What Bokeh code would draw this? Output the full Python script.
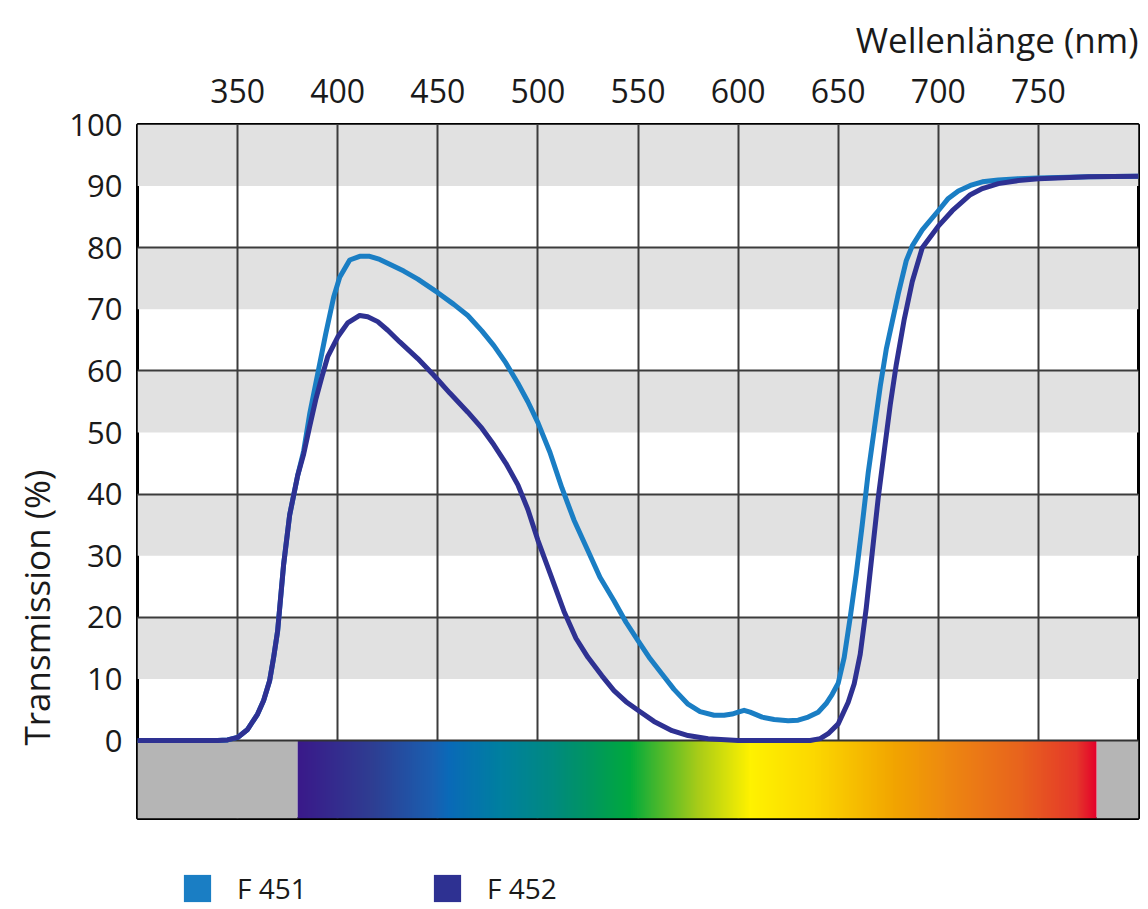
import numpy as np
from bokeh.plotting import figure
from bokeh.layouts import column
from bokeh.models import FixedTicker, Legend, LegendItem, Title
from bokeh.embed import file_html
from bokeh.resources import INLINE

# ---------------- data ----------------
wl_f451 = [300, 340, 345, 350, 355, 360, 363, 366, 368, 370, 373, 376, 380, 383, 386, 390, 394, 398,
           401, 406, 411, 416, 421, 426, 433, 440, 450, 458, 465, 472, 478, 484, 490, 495, 500, 506,
           512, 518, 525, 531, 538, 544, 550, 556, 562, 568, 575, 581, 588, 593, 597, 600, 603, 606,
           612, 618, 625, 630, 635, 640, 644, 647, 650, 653, 656, 659, 662, 665, 668, 671, 674, 677,
           680, 684, 687, 692, 700, 705, 710, 716, 722, 730, 740, 750, 775, 800]
t_f451 = [0, 0, 0.1, 0.5, 1.8, 4.3, 6.5, 9.7, 13.5, 17.8, 28.6, 36.6, 43, 47, 53, 59.5, 66, 72,
          75.2, 78, 78.6, 78.6, 78.1, 77.3, 76.2, 74.9, 72.7, 70.8, 69, 66.5, 64.1, 61.3, 58, 55, 51.6, 46.8,
          41, 35.8, 30.8, 26.5, 22.7, 19.2, 16.2, 13.3, 10.8, 8.3, 5.9, 4.7, 4.1, 4.1, 4.3, 4.6, 4.9, 4.6,
          3.8, 3.4, 3.2, 3.3, 3.8, 4.6, 6, 7.5, 9.3, 13.5, 20, 27, 35, 43.5, 50.5, 57.5, 63.5, 68,
          72.5, 77.9, 80.3, 82.9, 86, 88, 89.2, 90.1, 90.7, 91, 91.2, 91.3, 91.5, 91.6]

wl_f452 = [300, 340, 345, 350, 355, 360, 363, 366, 368, 370, 373, 376, 380, 383, 386, 389, 392, 395,
           400, 405, 411, 415, 420, 425, 431, 440, 448, 456, 465, 472, 478, 484, 490, 495, 500,
           506, 513, 519, 525, 532, 538, 544, 550, 558, 567, 575, 585, 600, 620, 636, 641, 645, 650,
           655, 658, 661, 664, 667, 670, 673, 676, 679, 683, 687, 692, 700, 707, 716,
           722, 730, 740, 750, 775, 800]
t_f452 = [0, 0, 0.1, 0.5, 1.8, 4.3, 6.5, 9.7, 13.5, 17.8, 28.6, 36.6, 43, 46.5, 51, 55.3, 58.9, 62.3,
          65.5, 67.8, 69, 68.8, 68, 66.6, 64.7, 62, 59.3, 56.4, 53.3, 50.7, 48, 45, 41.5, 37.5, 32.5,
          27.2, 21, 16.6, 13.5, 10.5, 8.1, 6.3, 4.9, 3.1, 1.6, 0.8, 0.3, 0, 0, 0, 0.3, 1.1, 2.7,
          6.2, 9.2, 14, 21.5, 30.5, 39.4, 47, 54.5, 61, 68.4, 74.5, 80, 83.5, 86, 88.6,
          89.6, 90.4, 90.9, 91.2, 91.5, 91.6]

series_names = ["F 451", "F 452"]
series_colors = ["#1a7ec4", "#2e3192"]

x_ticks = [350, 400, 450, 500, 550, 600, 650, 700, 750]
y_ticks = [0, 10, 20, 30, 40, 50, 60, 70, 80, 90, 100]
band_low = [10, 30, 50, 70, 90]          # grey background bands (10 % high)
band_high = [20, 40, 60, 80, 100]

# visible spectrum colour stops (nm, colour)
spec_nm = [380, 416, 447, 455, 481, 507, 523, 546, 557, 580, 606, 638, 677, 703, 742, 769, 779]
spec_col = ["#3a1a8a", "#2f3d92", "#1a5fb0", "#0a6ab8", "#0080a0", "#008a80", "#009464", "#00aa3c",
            "#3ab530", "#a8cc18", "#fff200", "#fcd800", "#f2a600", "#ee8a10", "#e8621e", "#e5382a", "#e4002b"]
uv_ir_left = [300, 779]
uv_ir_right = [380, 800]

X_MIN, X_MAX = 300, 800
Y_MIN, Y_MAX = -12.66, 100

FONT = "Open Sans"
TXT = "#1a1a1a"

# ---------------- main figure ----------------
p = figure(x_range=(X_MIN, X_MAX), y_range=(Y_MIN, Y_MAX),
           frame_width=1001, frame_height=694,
           min_border_left=137, min_border_top=124, min_border_right=10, min_border_bottom=2,
           x_axis_location="above", output_backend="svg", toolbar_location=None,
           background_fill_color="white", border_fill_color="white",
           title="Wellenlänge (nm)")

p.title.align = "right"
p.title.text_font = FONT
p.title.text_font_size = "35px"
p.title.text_font_style = "normal"
p.title.text_color = TXT
p.title.standoff = 26

p.outline_line_color = "black"
p.outline_line_width = 3

# background bands
p.quad(left=X_MIN, right=X_MAX, bottom=band_low, top=band_high,
       fill_color="#e1e1e1", line_color=None, level="image")

# grids
p.xgrid.ticker = FixedTicker(ticks=x_ticks)
p.ygrid.ticker = FixedTicker(ticks=[20, 40, 60, 80])
for g in (p.xgrid, p.ygrid):
    g.grid_line_color = "#3c3c3c"
    g.grid_line_width = 2

# spectrum bar
p.quad(left=uv_ir_left, right=uv_ir_right, bottom=Y_MIN, top=0,
       fill_color="#b5b5b5", line_color=None)

def hex2rgb(h):
    h = h.lstrip("#")
    return [int(h[i:i + 2], 16) for i in (0, 2, 4)]

rgb = np.array([hex2rgb(c) for c in spec_col], dtype=float)
nm = np.arange(spec_nm[0], spec_nm[-1] + 1)
img = np.zeros((1, len(nm)), dtype=np.uint32)
view = img.view(dtype=np.uint8).reshape((1, len(nm), 4))
for ch in range(3):
    view[0, :, ch] = np.interp(nm, spec_nm, rgb[:, ch]).astype(np.uint8)
view[0, :, 3] = 255
p.image_rgba(image=[img], x=spec_nm[0], y=Y_MIN, dw=spec_nm[-1] - spec_nm[0], dh=-Y_MIN)

# baseline
p.hspan(y=[0], line_color="#333333", line_width=2)

# curves
p.line(wl_f451, t_f451, line_color=series_colors[0], line_width=5, line_join="round")
p.line(wl_f452, t_f452, line_color=series_colors[1], line_width=5, line_join="round")

# axes
p.xaxis.ticker = FixedTicker(ticks=x_ticks)
p.yaxis.ticker = FixedTicker(ticks=y_ticks)
for ax in (p.xaxis, p.yaxis):
    ax.axis_line_color = None
    ax.major_tick_line_color = None
    ax.minor_tick_line_color = None
    ax.major_label_text_font = FONT
    ax.major_label_text_color = TXT
p.xaxis.major_label_text_font_size = "32px"
p.xaxis.major_label_standoff = 16
p.yaxis.major_label_text_font_size = "31px"
p.yaxis.major_label_standoff = 9

# y axis title (vertical, placed toward the lower part as in the original)
ytitle = Title(text="Transmission (%)", align="left", offset=73, text_font=FONT,
               text_font_size="35px", text_font_style="normal", text_color=TXT, standoff=14)
p.add_layout(ytitle, "left")

# ---------------- legend strip ----------------
leg_fig = figure(width=1148, height=89, min_border=0, x_axis_type=None, y_axis_type=None,
                 output_backend="svg", toolbar_location=None,
                 background_fill_color="white", border_fill_color="white")
leg_fig.outline_line_color = None
items = []
nan = float("nan")
for name, col in zip(series_names, series_colors):
    r = leg_fig.quad(left=[nan], right=[nan], bottom=[nan], top=[nan],
                     fill_color=col, line_color=None)
    items.append(LegendItem(label=name, renderers=[r]))
legend = Legend(items=items, orientation="horizontal", location=(43, 2),
                glyph_width=34, glyph_height=34, label_standoff=23, label_width=193,
                label_height=34, spacing=0, padding=0, margin=0,
                label_text_font=FONT, label_text_font_size="28px", label_text_color=TXT,
                label_text_baseline="middle",
                border_line_color=None, background_fill_alpha=0)
leg_fig.add_layout(legend, "center")

layout = column(p, leg_fig, spacing=0)
open("out.html", "w").write(file_html(layout, INLINE))
